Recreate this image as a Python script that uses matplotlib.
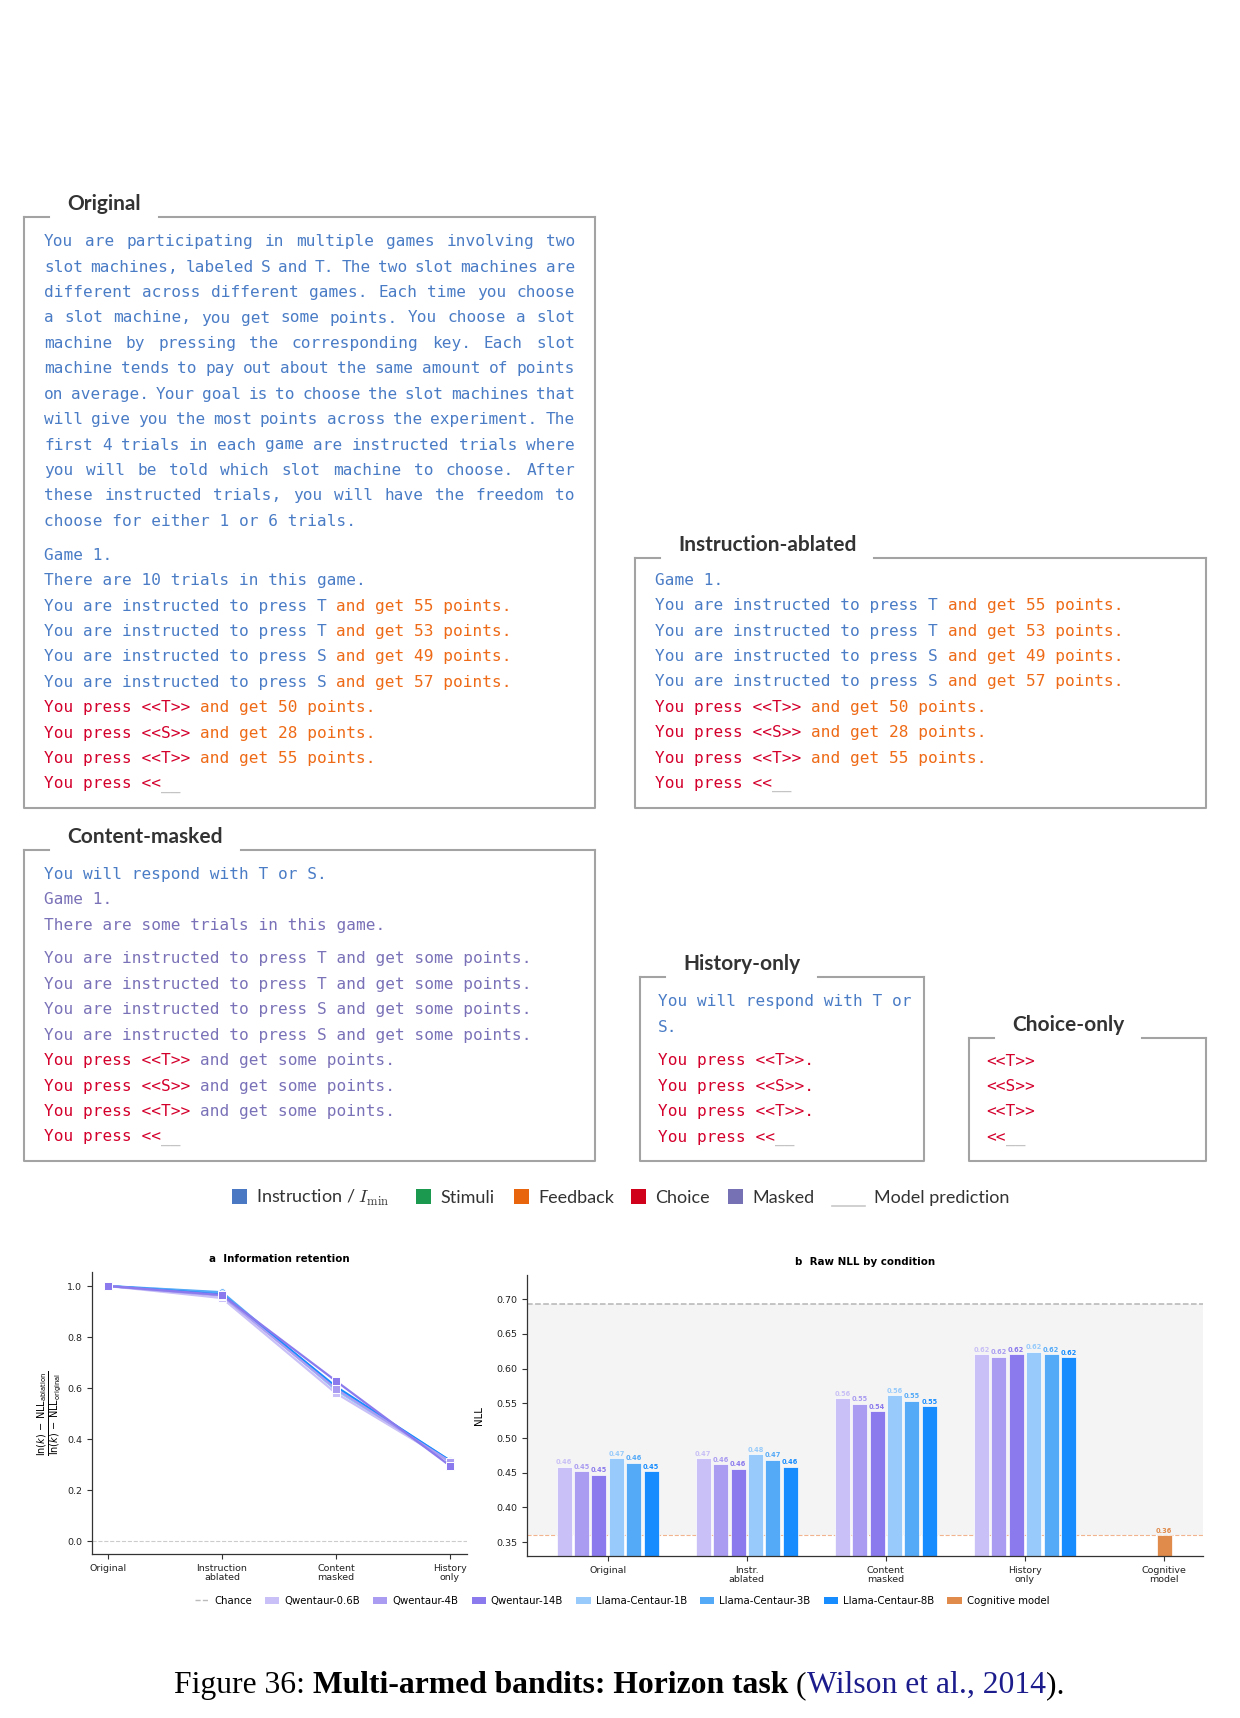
import matplotlib
matplotlib.use("Agg")
import matplotlib.pyplot as plt
from matplotlib.lines import Line2D
from matplotlib.patches import Patch, Rectangle

# ---------------- data ----------------
models = ["Qwentaur-0.6B", "Qwentaur-4B", "Qwentaur-14B",
          "Llama-Centaur-1B", "Llama-Centaur-3B", "Llama-Centaur-8B"]
model_colors = ["#c8c0f6", "#a99cf1", "#8a7aed", "#98cbfb", "#55aaf8", "#168cff"]
model_markers = ["s", "s", "s", "o", "o", "o"]
cog_label = "Cognitive model"
cog_color = "#e08a4b"

cond_a = ["Original", "Instruction\nablated", "Content\nmasked", "History\nonly"]
ret_q06 = [1.00, 0.953, 0.580, 0.312]
ret_q4 = [1.00, 0.962, 0.597, 0.312]
ret_q14 = [1.00, 0.965, 0.628, 0.296]
ret_l1 = [1.00, 0.973, 0.592, 0.310]
ret_l3 = [1.00, 0.976, 0.601, 0.316]
ret_l8 = [1.00, 0.967, 0.606, 0.316]

cond_b = ["Original", "Instr.\nablated", "Content\nmasked", "History\nonly", "Cognitive\nmodel"]
nll_q06 = [0.4585, 0.471, 0.5575, 0.6206]
nll_q4 = [0.4523, 0.462, 0.5493, 0.6172]
nll_q14 = [0.447, 0.4556, 0.5383, 0.6206]
nll_l1 = [0.471, 0.477, 0.5618, 0.6244]
nll_l3 = [0.4643, 0.4686, 0.5541, 0.6206]
nll_l8 = [0.452, 0.4585, 0.546, 0.6167]
nll_cog = 0.3596
chance_nll = 0.6931

# prompt texts
orig_paragraph = [
    "You are participating in multiple games involving two",
    "slot machines, labeled S and T. The two slot machines are",
    "different across different games. Each time you choose",
    "a slot machine, you get some points. You choose a slot",
    "machine by pressing the corresponding key. Each slot",
    "machine tends to pay out about the same amount of points",
    "on average. Your goal is to choose the slot machines that",
    "will give you the most points across the experiment. The",
    "first 4 trials in each game are instructed trials where",
    "you will be told which slot machine to choose. After",
    "these instructed trials, you will have the freedom to",
    "choose for either 1 or 6 trials.",
]
instructed = [("T", 55), ("T", 53), ("S", 49), ("S", 57)]
free_choices = [("T", 50), ("S", 28), ("T", 55)]

legend_labels = ["Instruction / $I_{\\mathrm{min}}$", "Stimuli", "Feedback", "Choice", "Masked"]
legend_colors = ["#4a78c2", "#1b9a4f", "#e8650e", "#d0021b", "#7670b4"]

TXT = {"ins": "#4a7cc6", "fb": "#ee6a16", "ch": "#d4002c", "mk": "#7a72b8", "pr": "#c4c4c4"}

# ---------------- figure ----------------
DPI = 100
W, H = 1240, 1718
fig = plt.figure(figsize=(W / DPI, H / DPI), dpi=DPI)
ov = fig.add_axes([0, 0, 1, 1], zorder=0)
ov.set_xlim(0, W)
ov.set_ylim(H, 0)
ov.axis("off")
R = fig.canvas.get_renderer()


def twidth(t):
    return t.get_window_extent(renderer=R).width


MONO = "DejaVu Sans Mono"
MONO_PT = 11.6
probe = ov.text(0, 0, "M" * 40, family=MONO, fontsize=MONO_PT)
CW = twidth(probe) / 40
probe.remove()
EM = MONO_PT * DPI / 72
BASE = 0.36 * EM
L = 25.4
EDGE = "#a3a3a3"
TITLE_PT = 15


def draw_segments(x0, yc, segs):
    col = 0
    for s, key in segs:
        stripped = s.lstrip(" ")
        col += len(s) - len(stripped)
        ov.text(x0 + col * CW, yc + BASE, stripped, family=MONO, fontsize=MONO_PT,
                color=TXT[key], va="baseline", ha="left")
        col += len(stripped)


def draw_justified(x0, x1, yc, line, key):
    words = line.split()
    nch = sum(len(w) for w in words)
    gap = ((x1 - x0) - nch * CW) / (len(words) - 1)
    x = x0
    for w in words:
        ov.text(x, yc + BASE, w, family=MONO, fontsize=MONO_PT, color=TXT[key],
                va="baseline", ha="left")
        x += len(w) * CW + gap


def draw_box(x0, y0, x1, y1, title):
    tl = x0 + 43
    t = ov.text(tl, y0 - 7, title, family="Lato", fontweight="bold", fontsize=TITLE_PT,
                color="#333333", va="baseline", ha="left")
    tw = twidth(t)
    gl, gr = tl - 18, tl + tw + 18
    kw = dict(color=EDGE, lw=1.5, solid_capstyle="projecting")
    ov.plot([x0, gl], [y0, y0], **kw)
    ov.plot([gr, x1], [y0, y0], **kw)
    ov.plot([x0, x0, x1, x1], [y0, y1, y1, y0], **kw)


def game_lines(masked=False, trials_line=True):
    out = []
    if trials_line:
        out.append([("Game 1.", "mk" if masked else "ins")])
        out.append([("There are some trials in this game." if masked
                     else "There are 10 trials in this game.", "mk" if masked else "ins")])
    else:
        out.append([("Game 1.", "ins")])
    return out


def trial_lines(masked=False):
    out = []
    for k, p in instructed:
        if masked:
            out.append([("You are instructed to press %s and get some points." % k, "mk")])
        else:
            out.append([("You are instructed to press %s" % k, "ins"),
                        (" and get %d points." % p, "fb")])
    for k, p in free_choices:
        out.append([("You press <<%s>>" % k, "ch"),
                    (" and get some points." if masked else " and get %d points." % p,
                     "mk" if masked else "fb")])
    out.append([("You press <<", "ch"), ("__", "pr")])
    return out


# --- Original box ---
draw_box(24, 217, 595, 808, "Original")
x0, x1 = 44, 575
for i, line in enumerate(orig_paragraph):
    y = 240.5 + i * L
    if i < len(orig_paragraph) - 1:
        draw_justified(x0, x1, y, line, "ins")
    else:
        draw_segments(x0, y, [(line, "ins")])
for i, segs in enumerate(game_lines() + trial_lines()):
    draw_segments(x0, 554 + i * L, segs)

# --- Instruction-ablated box ---
draw_box(635, 558, 1206, 808, "Instruction-ablated")
for i, segs in enumerate(game_lines(trials_line=False) + trial_lines()):
    draw_segments(655, 579 + i * L, segs)

# --- Content-masked box ---
draw_box(24, 850, 595, 1161, "Content-masked")
head = [[("You will respond with T or S.", "ins")]] + game_lines(masked=True)
for i, segs in enumerate(head):
    draw_segments(44, 873 + i * L, segs)
for i, segs in enumerate(trial_lines(masked=True)):
    draw_segments(44, 957.7 + i * L, segs)

# --- History-only box ---
draw_box(640, 977, 924, 1161, "History-only")
for i, s in enumerate(["You will respond with T or", "S."]):
    draw_segments(658, 1000.5 + i * L, [(s, "ins")])
hist = [[("You press <<%s>>." % k, "ch")] for k, _ in free_choices] + \
       [[("You press <<", "ch"), ("__", "pr")]]
for i, segs in enumerate(hist):
    draw_segments(658, 1059.7 + i * L, segs)

# --- Choice-only box ---
draw_box(969, 1038, 1206, 1161, "Choice-only")
cho = [[("<<%s>>" % k, "ch")] for k, _ in free_choices] + [[("<<", "ch"), ("__", "pr")]]
for i, segs in enumerate(cho):
    draw_segments(986, 1059.7 + i * L, segs)

# --- colour legend row ---
sq_x = [232, 416, 514, 631, 728]
for xs, lab, col in zip(sq_x, legend_labels, legend_colors):
    ov.add_patch(Rectangle((xs, 1189), 14.5, 14.5, facecolor=col, edgecolor="none"))
    ov.text(xs + 24, 1203, lab, family="Lato", fontsize=13, color="#333333",
            va="baseline", ha="left", math_fontfamily="cm")
ov.plot([832, 865], [1206, 1206], color="#c8c8c8", lw=1.2)
ov.text(874, 1203, "Model prediction", family="Lato", fontsize=13, color="#333333",
        va="baseline", ha="left")

# ---------------- panel a ----------------
TICK_PT = 6.8
axa = fig.add_axes([92 / W, 1 - 1554 / H, (467 - 92) / W, (1554 - 1272) / H], zorder=2)
series_a = [ret_q06, ret_q4, ret_q14, ret_l1, ret_l3, ret_l8]
xa = list(range(len(cond_a)))
for i in [3, 4, 5, 0, 1, 2]:
    axa.plot(xa, series_a[i], color=model_colors[i], marker=model_markers[i], ms=5.5,
             mec="white", mew=0.7, lw=1.6, zorder=3)
axa.axhline(0.0, ls="--", color="#cccccc", lw=0.8, zorder=1)
axa.set_xlim(-0.14, 3.15)
axa.set_ylim(-0.05, 1.055)
axa.set_xticks(xa)
axa.set_xticklabels(cond_a, fontsize=TICK_PT, linespacing=1.0)
axa.set_yticks([0.0, 0.2, 0.4, 0.6, 0.8, 1.0])
axa.set_yticklabels(["0.0", "0.2", "0.4", "0.6", "0.8", "1.0"], fontsize=TICK_PT)
axa.set_title("a  Information retention", fontsize=7.4, fontweight="bold", pad=7)
axa.set_ylabel(r"$\frac{\ln(k)\,-\,\mathrm{NLL}_{\mathrm{ablation}}}{\ln(k)\,-\,\mathrm{NLL}_{\mathrm{original}}}$",
               fontsize=10)
axa.yaxis.set_label_coords(-0.075, 0.5)

# ---------------- panel b ----------------
axb = fig.add_axes([527 / W, 1 - 1556 / H, (1203 - 527) / W, (1556 - 1275) / H], zorder=2)
series_b = [nll_q06, nll_q4, nll_q14, nll_l1, nll_l3, nll_l8]
pitch, bw = 0.125, 0.108
axb.axhspan(0.36, chance_nll, color="#f4f4f4", zorder=0, lw=0)
axb.axhline(chance_nll, ls="--", color="#b5b5b5", lw=1.1, zorder=1)
axb.axhline(nll_cog, ls="--", color="#f2b48e", lw=0.8, zorder=1)
for i, vals in enumerate(series_b):
    xs = [g + (i - 2.5) * pitch for g in range(len(vals))]
    axb.bar(xs, vals, width=bw, color=model_colors[i], edgecolor="white", lw=0.5, zorder=2)
    for x, v in zip(xs, vals):
        axb.text(x, v + 0.002, "%.2f" % v, ha="center", va="bottom", fontsize=4.8,
                 fontweight="bold", color=model_colors[i], zorder=4)
axb.bar([4], [nll_cog], width=bw, color=cog_color, edgecolor="white", lw=0.5, zorder=2)
axb.text(4, nll_cog + 0.002, "%.2f" % nll_cog, ha="center", va="bottom", fontsize=4.8,
         fontweight="bold", color=cog_color, zorder=4)
axb.set_xlim(-0.58, 4.28)
axb.set_ylim(0.33, 0.735)
axb.set_xticks(range(len(cond_b)))
axb.set_xticklabels(cond_b, fontsize=TICK_PT, linespacing=1.0)
yt = [0.35, 0.40, 0.45, 0.50, 0.55, 0.60, 0.65, 0.70]
axb.set_yticks(yt)
axb.set_yticklabels(["%.2f" % v for v in yt], fontsize=TICK_PT)
axb.set_title("b  Raw NLL by condition", fontsize=7.4, fontweight="bold", pad=7)
axb.set_ylabel("NLL", fontsize=7.4)
axb.yaxis.set_label_coords(-0.064, 0.5)

for ax in (axa, axb):
    ax.set_facecolor("white")
    for s in ("top", "right"):
        ax.spines[s].set_visible(False)
    for s in ("left", "bottom"):
        ax.spines[s].set_color("#333333")
        ax.spines[s].set_linewidth(0.9)
    ax.tick_params(length=3.5, width=0.8, colors="#333333", labelcolor="#222222")

handles = [Line2D([0], [0], ls="--", color="#bbbbbb", lw=1.0)] + \
          [Patch(facecolor=c, edgecolor="none") for c in model_colors] + \
          [Patch(facecolor=cog_color, edgecolor="none")]
labels = ["Chance"] + models + [cog_label]
fig.legend(handles, labels, loc="center", bbox_to_anchor=(622 / W, 1 - 1601 / H), ncol=8,
           frameon=False, fontsize=7.3, handlelength=1.4, columnspacing=1.3,
           handletextpad=0.5)

# ---------------- caption ----------------
SERIF = "Liberation Serif"
pieces = [("Figure 36:", "normal", "black"), (" ", None, None),
          ("Multi-armed bandits: Horizon task", "bold", "black"), (" ", None, None),
          ("(", "normal", "black"), ("Wilson et al., 2014", "normal", "#1c1c8c"),
          (").", "normal", "black")]


def layout_caption(fs, draw_x=None):
    a = ov.text(0, 0, "xx", family=SERIF, fontsize=fs)
    b = ov.text(0, 0, "x x", family=SERIF, fontsize=fs)
    sp = twidth(b) - twidth(a)
    a.remove(); b.remove()
    x = 0 if draw_x is None else draw_x
    objs = []
    for s, wgt, col in pieces:
        if wgt is None:
            x += sp
            continue
        t = ov.text(x, 1693, s, family=SERIF, fontsize=fs, fontweight=wgt, color=col,
                    va="baseline", ha="left")
        x += twidth(t)
        objs.append(t)
    total = x - (0 if draw_x is None else draw_x)
    if draw_x is None:
        for t in objs:
            t.remove()
    return total


fs0 = 20
tw0 = layout_caption(fs0)
fs = fs0 * 891 / tw0
tw = layout_caption(fs)
layout_caption(fs, draw_x=619 - tw / 2)

fig.savefig("out.png", dpi=DPI)
